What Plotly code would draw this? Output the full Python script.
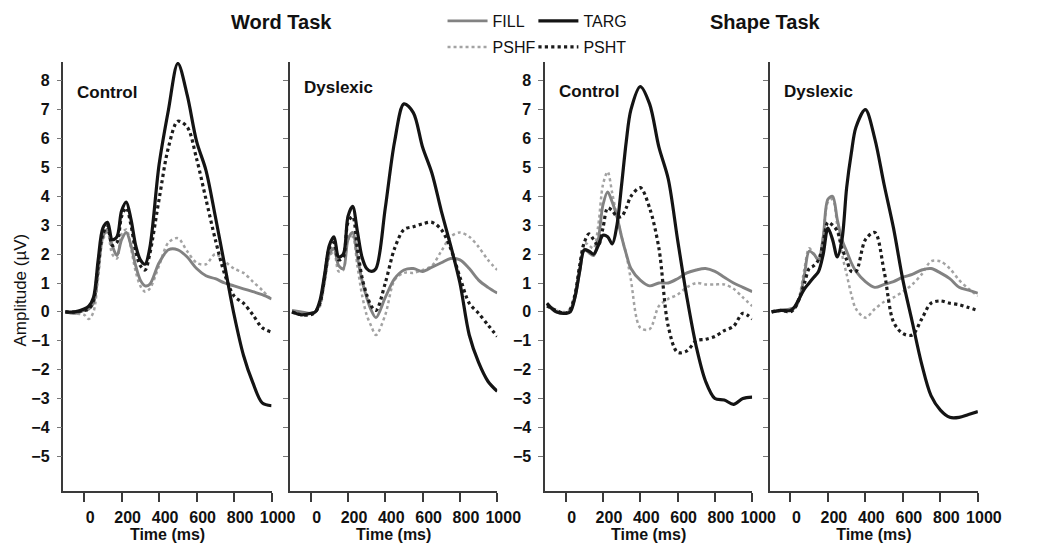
import plotly.graph_objects as go

# Sample times (ms) shared by every waveform
TIME_MS = [-100, -50, 0, 25, 50, 75, 100, 125, 150, 175, 200, 225, 250, 275, 300, 325, 350,
           400, 450, 500, 550, 600, 650, 700, 750, 800, 850, 900, 950, 1000]

# Word task, control group (amplitude in µV)
WORD_CTRL_FILL = [0.0, -0.05, 0.05, 0.1, 0.3, 1.4, 2.6, 2.85, 2.3, 1.95, 2.5, 2.75, 2.3, 1.6, 1.1, 0.9, 0.95,
                  1.7, 2.15, 2.15, 1.9, 1.5, 1.25, 1.15, 1.0, 0.9, 0.8, 0.7, 0.6, 0.45]
WORD_CTRL_TARG = [0.0, 0.0, 0.1, 0.2, 0.5, 1.8, 2.9, 3.1, 2.5, 2.6, 3.5, 3.8, 3.2, 2.3, 1.8, 1.65, 2.2,
                  5.1, 7.0, 8.6, 7.5, 5.9, 4.9, 3.3, 1.6, -0.1, -1.5, -2.45, -3.15, -3.25]
WORD_CTRL_PSHF = [0.0, -0.05, -0.1, -0.25, 0.0, 1.2, 2.5, 2.75, 2.0, 1.85, 2.7, 2.85, 2.2, 1.4, 0.9, 0.7, 0.8,
                  1.6, 2.4, 2.55, 2.1, 1.7, 1.65, 2.0, 1.75, 1.5, 1.35, 1.05, 0.75, 0.4]
WORD_CTRL_PSHT = [0.0, 0.0, 0.05, 0.1, 0.4, 1.6, 2.7, 2.95, 2.3, 2.4, 3.3, 3.6, 3.0, 2.1, 1.6, 1.45, 2.0,
                  3.9, 5.7, 6.6, 6.4, 5.3, 3.9, 2.5, 1.3, 0.55, 0.3, -0.1, -0.55, -0.7]

# Word task, dyslexic group
WORD_DYS_FILL = [0.05, 0.0, -0.05, 0.0, 0.3, 1.1, 2.0, 2.2, 1.6, 1.5, 2.5, 2.75, 1.9, 1.1, 0.5, 0.05, -0.2,
                 0.5, 1.15, 1.45, 1.5, 1.4, 1.55, 1.7, 1.85, 1.8, 1.5, 1.1, 0.85, 0.65]
WORD_DYS_TARG = [0.0, -0.1, -0.05, 0.0, 0.4, 1.3, 2.3, 2.6, 1.9, 2.0, 3.3, 3.65, 2.8, 1.9, 1.5, 1.4, 1.5,
                 3.6, 5.9, 7.2, 6.9, 5.7, 4.8, 3.5, 2.3, 1.0, -0.8, -1.75, -2.4, -2.75]
WORD_DYS_PSHF = [0.0, -0.05, -0.05, 0.0, 0.2, 1.0, 1.9, 2.1, 1.4, 1.45, 2.5, 2.6, 1.6, 0.6, -0.1, -0.5, -0.8,
                 -0.1, 1.1, 1.35, 1.35, 1.45, 1.6, 2.1, 2.6, 2.75, 2.6, 2.25, 1.8, 1.45]
WORD_DYS_PSHT = [0.0, -0.1, -0.1, 0.0, 0.3, 1.2, 2.2, 2.4, 1.8, 1.9, 3.1, 3.3, 2.2, 1.2, 0.6, 0.2, 0.05,
                 1.0, 2.2, 2.85, 2.95, 3.05, 3.1, 2.85, 2.2, 1.2, 0.3, -0.05, -0.45, -0.85]

# Shape task, control group
SHAPE_CTRL_FILL = [0.25, 0.0, -0.05, 0.05, 0.5, 1.4, 2.15, 2.05, 1.95, 2.5, 3.7, 4.15, 3.8, 3.3, 2.6, 2.0, 1.5,
                   1.1, 0.9, 1.0, 1.0, 1.15, 1.35, 1.45, 1.5, 1.4, 1.2, 1.0, 0.85, 0.7]
SHAPE_CTRL_TARG = [0.3, 0.0, -0.05, 0.0, 0.5, 1.4, 2.15, 2.1, 2.0, 2.3, 2.65, 2.6, 2.35, 3.0, 4.4, 5.9, 7.0,
                   7.8, 7.2, 5.7, 4.6, 2.5, 0.5, -1.2, -2.4, -3.0, -3.05, -3.2, -3.0, -2.95]
SHAPE_CTRL_PSHF = [0.3, 0.05, 0.0, 0.1, 0.6, 1.5, 2.4, 2.3, 2.2, 3.0, 4.4, 4.85, 4.1, 3.3, 2.6, 2.0, 1.1,
                   -0.55, -0.6, 0.2, 0.45, 0.6, 0.85, 1.0, 0.95, 0.95, 0.95, 0.8, 0.5, 0.2]
SHAPE_CTRL_PSHT = [0.2, 0.05, -0.05, 0.1, 0.6, 1.6, 2.4, 2.7, 2.5, 2.3, 2.9, 3.6, 3.5, 3.3, 3.3, 3.6, 4.0,
                   4.3, 3.6, 2.2, -0.5, -1.4, -1.35, -1.0, -0.95, -0.85, -0.65, -0.5, -0.05, -0.25]

# Shape task, dyslexic group
SHAPE_DYS_FILL = [0.0, 0.05, 0.1, 0.15, 0.5, 1.3, 2.1, 2.0, 1.8, 2.6, 3.9, 4.0, 3.2, 2.5, 2.1, 1.7, 1.4,
                  1.05, 0.85, 0.95, 1.05, 1.2, 1.3, 1.45, 1.5, 1.35, 1.15, 0.85, 0.75, 0.65]
SHAPE_DYS_TARG = [0.0, 0.05, 0.05, 0.2, 0.5, 0.8, 1.0, 1.2, 1.4, 2.0, 2.9, 2.5, 1.9, 2.5, 4.3, 5.5, 6.4,
                  7.0, 6.0, 4.4, 2.9, 1.1, -0.35, -1.8, -2.9, -3.4, -3.65, -3.65, -3.55, -3.45]
SHAPE_DYS_PSHF = [0.0, 0.05, 0.1, 0.2, 0.6, 1.5, 2.2, 2.0, 1.8, 2.6, 3.8, 3.9, 3.0, 2.0, 1.3, 0.6, 0.1,
                  -0.2, 0.1, 0.35, 0.5, 0.7, 0.95, 1.3, 1.75, 1.75, 1.5, 1.1, 0.8, 0.55]
SHAPE_DYS_PSHT = [0.0, 0.05, 0.0, 0.15, 0.5, 1.0, 1.5, 1.6, 1.8, 2.4, 3.1, 3.0, 2.8, 2.2, 1.8, 1.4, 1.4,
                  2.5, 2.75, 1.4, -0.35, -0.75, -0.8, -0.25, 0.3, 0.38, 0.3, 0.25, 0.15, 0.05]

CONDITIONS = ["FILL", "TARG", "PSHF", "PSHT"]
TASK_TITLES = ["Word Task", "Shape Task"]
GROUP_LABELS = ["Control", "Dyslexic", "Control", "Dyslexic"]
X_TICKS = [0, 200, 400, 600, 800, 1000]
Y_TICKS = [-5, -4, -3, -2, -1, 0, 1, 2, 3, 4, 5, 6, 7, 8]
X_TITLE = "Time (ms)"
Y_TITLE = "Amplitude (µV)"

PANELS = [
    {"FILL": WORD_CTRL_FILL, "TARG": WORD_CTRL_TARG, "PSHF": WORD_CTRL_PSHF, "PSHT": WORD_CTRL_PSHT},
    {"FILL": WORD_DYS_FILL, "TARG": WORD_DYS_TARG, "PSHF": WORD_DYS_PSHF, "PSHT": WORD_DYS_PSHT},
    {"FILL": SHAPE_CTRL_FILL, "TARG": SHAPE_CTRL_TARG, "PSHF": SHAPE_CTRL_PSHF, "PSHT": SHAPE_CTRL_PSHT},
    {"FILL": SHAPE_DYS_FILL, "TARG": SHAPE_DYS_TARG, "PSHF": SHAPE_DYS_PSHF, "PSHT": SHAPE_DYS_PSHT},
]

# ---- layout geometry (pixels of a 1039 x 553 page) ----
W, H = 1039, 553
FONT = "Arial, Liberation Sans, Helvetica, sans-serif"
X_DOMAINS_PX = [(65, 278), (297, 509), (558, 770), (788, 1001)]
Y_TOP_PX, Y_BOTTOM_PX = 62, 491
X_RANGE = [-110, 1000]
Y_RANGE = [-6.2, 8.65]


def fx(p):
    return p / W


def fy(p):
    return 1 - p / H


LINE_STYLE = {
    "FILL": dict(color="#828282", width=2.9, dash="solid"),
    "TARG": dict(color="#141414", width=3.2, dash="solid"),
    "PSHF": dict(color="#a3a3a3", width=2.5, dash="dot"),
    "PSHT": dict(color="#1c1c1c", width=3.2, dash="dot"),
}
LEGEND_OF = {"FILL": "legend", "TARG": "legend2", "PSHF": "legend3", "PSHT": "legend4"}
DRAW_ORDER = ["PSHF", "FILL", "PSHT", "TARG"]

fig = go.Figure()

for i, panel in enumerate(PANELS):
    sfx = "" if i == 0 else str(i + 1)
    for cond in DRAW_ORDER:
        st = LINE_STYLE[cond]
        fig.add_trace(go.Scatter(
            x=TIME_MS, y=panel[cond], mode="lines", name=cond,
            line=dict(color=st["color"], width=st["width"], dash=st["dash"],
                      shape="spline", smoothing=0.9),
            xaxis="x" + sfx, yaxis="y" + sfx,
            showlegend=(i == 0), legend=LEGEND_OF[cond], hoverinfo="skip",
        ))

axis_common = dict(showgrid=False, zeroline=False, showline=True, linecolor="#3a3a3a", linewidth=1.5)
tick_font = dict(family=FONT, size=16, color="#111", weight="bold")

layout = dict(
    width=W, height=H, margin=dict(l=0, r=0, t=0, b=0),
    paper_bgcolor="white", plot_bgcolor="white",
    font=dict(family=FONT, color="#111"),
)

for i, (x0, x1) in enumerate(X_DOMAINS_PX):
    sfx = "" if i == 0 else str(i + 1)
    layout["xaxis" + sfx] = dict(
        axis_common, domain=[fx(x0), fx(x1)], range=X_RANGE, anchor="y" + sfx,
        tickvals=X_TICKS, ticks="outside", ticklen=9, tickwidth=1.5, tickcolor="#3a3a3a",
        tickfont=tick_font, ticklabelshift=6, ticklabelstandoff=2,
        title=dict(text=X_TITLE, font=dict(family=FONT, size=16, color="#111", weight="bold"), standoff=4),
    )
    layout["yaxis" + sfx] = dict(
        axis_common, domain=[fy(Y_BOTTOM_PX), fy(Y_TOP_PX)], range=Y_RANGE, anchor="x" + sfx,
        tickvals=Y_TICKS, ticks="outside", ticklen=5, tickwidth=1, tickcolor="#777",
        tickfont=tick_font, showticklabels=(i % 2 == 0), ticklabelstandoff=4,
    )

legend_pos = {
    "legend": (453, 21), "legend2": (546, 21), "legend3": (453, 47), "legend4": (546, 47),
}
for key, (lx, ly) in legend_pos.items():
    layout[key] = dict(
        x=fx(lx), y=fy(ly), xanchor="left", yanchor="middle", bgcolor="rgba(0,0,0,0)",
        font=dict(family=FONT, size=16, color="#111"), itemwidth=40,
    )

annotations = []
# task titles above each pair of panels
for t, cx in zip(TASK_TITLES, [288, 784]):
    annotations.append(dict(text=t, x=fx(cx), y=fy(22), xref="paper", yref="paper",
                            showarrow=False, xanchor="center", yanchor="middle",
                            font=dict(family=FONT, size=20, color="#111", weight="bold")))
# group labels inside each panel
for lbl, (x0, _), ly in zip(GROUP_LABELS, X_DOMAINS_PX, [93, 87, 91, 91]):
    annotations.append(dict(text=lbl, x=fx(x0 + 12), y=fy(ly), xref="paper", yref="paper",
                            showarrow=False, xanchor="left", yanchor="middle",
                            font=dict(family=FONT, size=17, color="#111", weight="bold")))
annotations.append(dict(text=Y_TITLE, x=fx(20), y=fy(290), xref="paper", yref="paper",
                        showarrow=False, textangle=-90, xanchor="center", yanchor="middle",
                        font=dict(family=FONT, size=17, color="#111")))
layout["annotations"] = annotations

fig.update_layout(layout)
fig.write_html("out.html")
